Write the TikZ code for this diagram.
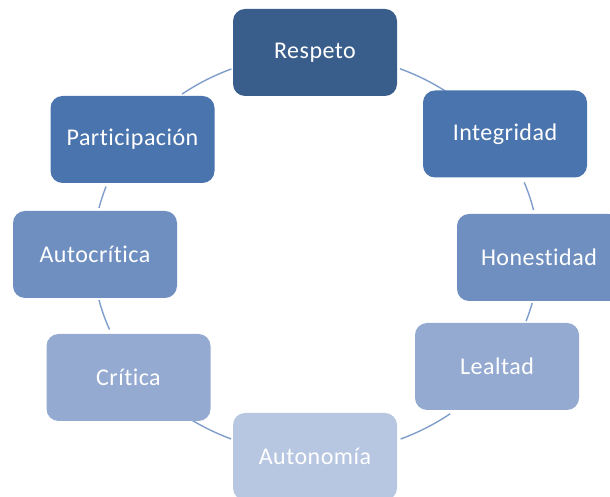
\documentclass[tikz,border=0pt]{standalone}
\usepackage{fontspec}
\setmainfont{Carlito}[Ligatures=NoCommon, LetterSpace=2]
\definecolor{cA}{HTML}{3A5E8C}
\definecolor{cB}{HTML}{4A74AD}
\definecolor{cC}{HTML}{6F8FC0}
\definecolor{cD}{HTML}{95AAD1}
\definecolor{cE}{HTML}{B8C7E1}
\definecolor{cline}{HTML}{7F9DCA}
\begin{document}
\begin{tikzpicture}[x=1pt,y=1pt,
  box/.style={rounded corners=12pt, minimum width=164pt, minimum height=87pt,
    inner sep=0pt, text=white, font=\fontsize{24}{28}\selectfont},
  conn/.style={draw=cline, line width=1.4pt}]
\useasboundingbox (0,0) rectangle (610,497);
\coordinate (c) at (316,243);
% connectors (arcs of the cycle)
\def\rx{223}\def\ry{200}
\draw[conn] ([shift={(67.9:\rx pt and \ry pt)}]c) arc[start angle=67.9,end angle=53.5,x radius=\rx pt,y radius=\ry pt];
\draw[conn] ([shift={(21:\rx pt and \ry pt)}]c) arc[start angle=21,end angle=12.7,x radius=\rx pt,y radius=\ry pt];
\draw[conn] ([shift={(-14.2:\rx pt and \ry pt)}]c) arc[start angle=-14.2,end angle=-19.6,x radius=\rx pt,y radius=\ry pt];
\draw[conn] ([shift={(-53:\rx pt and \ry pt)}]c) arc[start angle=-53,end angle=-67.7,x radius=\rx pt,y radius=\ry pt];
\draw[conn] ([shift={(-112.4:\rx pt and \ry pt)}]c) arc[start angle=-112.4,end angle=-125.7,x radius=\rx pt,y radius=\ry pt];
\draw[conn] ([shift={(202.2:\rx pt and \ry pt)}]c) arc[start angle=202.2,end angle=193.3,x radius=\rx pt,y radius=\ry pt];
\draw[conn] ([shift={(166.7:\rx pt and \ry pt)}]c) arc[start angle=166.7,end angle=160.3,x radius=\rx pt,y radius=\ry pt];
\draw[conn] ([shift={(126.9:\rx pt and \ry pt)}]c) arc[start angle=126.9,end angle=112.3,x radius=\rx pt,y radius=\ry pt];
% boxes
\node[box, fill=cA] (respeto) at (315,444.5) {Respeto};
\node[box, fill=cB] (integridad) at (505,363) {Integridad};
\node[box, fill=cC] (honestidad) at (539,239.5) {Honestidad};
\node[box, fill=cD] (lealtad) at (497,130.5) {Lealtad};
\node[box, fill=cE] (autonomia) at (315,40.5) {Autonomía};
\node[box, fill=cD] (critica) at (128.5,119.5) {Crítica};
\node[box, fill=cC] (autocritica) at (95,242.5) {Autocrítica};
\node[box, fill=cB] (participacion) at (132.5,357.5) {Participación};
\end{tikzpicture}
\end{document}
